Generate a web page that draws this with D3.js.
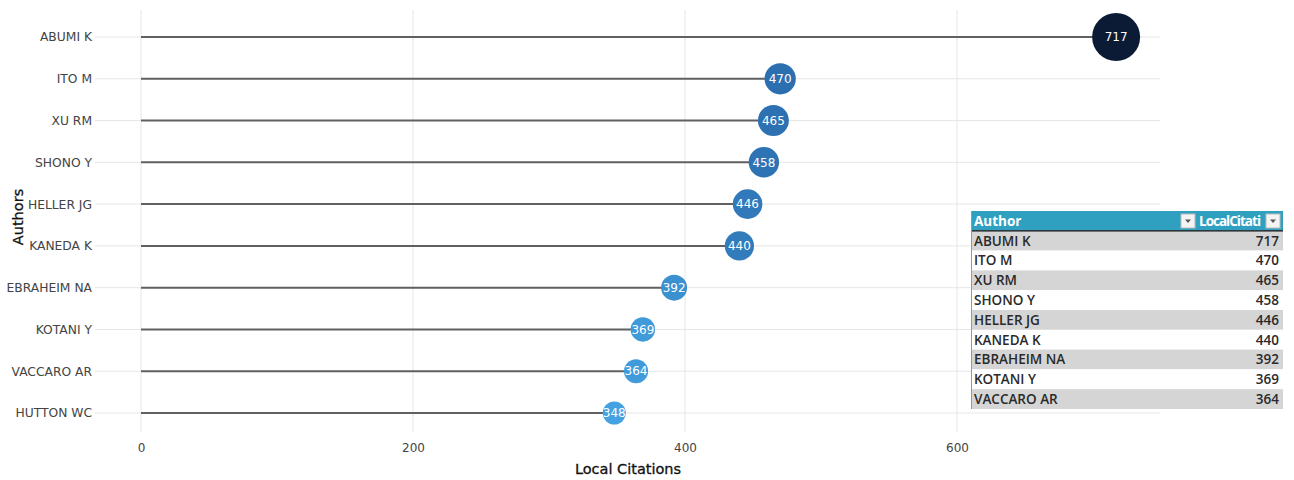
<!DOCTYPE html>
<html><head><meta charset="utf-8">
<script src="https://cdn.jsdelivr.net/npm/d3@7"></script>
<style>body{margin:0;background:#fff}svg{display:block}</style>
</head><body>
<svg id="c" width="1294" height="480"></svg>
<script>
const authors = ["ABUMI K","ITO M","XU RM","SHONO Y","HELLER JG","KANEDA K","EBRAHEIM NA","KOTANI Y","VACCARO AR","HUTTON WC"];
const citations = [717,470,465,458,446,440,392,369,364,348];
const xTicks = [0,200,400,600];
const tableAuthors = authors.slice(0,9);
const tableValues = citations.slice(0,9);
const tableHeaders = ["Author","LocalCitati"];

const svg = d3.select("#c");
const x = d3.scaleLinear().domain([0,750]).range([141,1161]);
const y = d3.scalePoint().domain(authors).range([37,413]);
const r = d3.scaleLinear().domain([348,717]).range([11.5,24]);
const col = d3.scaleLinear().domain([348,470,717]).range(["#44a2e2","#2c6fb0","#0c1b35"]).interpolate(d3.interpolateRgb);
const font = "DejaVu Sans, Verdana, sans-serif";

// grid
svg.append("g").selectAll("line").data(xTicks).join("line")
  .attr("x1",d=>x(d)).attr("x2",d=>x(d)).attr("y1",10).attr("y2",432)
  .attr("stroke","#e6e6e6").attr("stroke-width",1);
svg.append("g").selectAll("line").data(authors).join("line")
  .attr("x1",95).attr("x2",1160).attr("y1",d=>y(d)).attr("y2",d=>y(d))
  .attr("stroke","#e6e6e6").attr("stroke-width",1);

// axes
const yAxis = svg.append("g").attr("transform","translate(95,0)").call(d3.axisLeft(y).tickSize(0).tickPadding(3));
yAxis.select(".domain").remove();
yAxis.selectAll("text").attr("font-family",font).attr("font-size",12.3).attr("fill","#444");
const xAxis = svg.append("g").attr("transform","translate(0,441)").call(d3.axisBottom(x).tickValues(xTicks).tickSize(0).tickPadding(2));
xAxis.select(".domain").remove();
xAxis.selectAll("text").attr("font-family",font).attr("font-size",12).attr("fill","#444");

svg.append("text").attr("x",628).attr("y",474).attr("text-anchor","middle")
  .attr("font-family",font).attr("font-size",14.5).attr("fill","#111").attr("stroke","#111").attr("stroke-width",0.3).text("Local Citations");
svg.append("text").attr("transform","translate(23,217) rotate(-90)").attr("text-anchor","middle")
  .attr("font-family",font).attr("font-size",14.5).attr("fill","#111").attr("stroke","#111").attr("stroke-width",0.3).text("Authors");

// lollipops
const data = authors.map((a,i)=>({a, v:citations[i]}));
svg.append("g").selectAll("line").data(data).join("line")
  .attr("x1",x(0)).attr("x2",d=>x(d.v)).attr("y1",d=>y(d.a)).attr("y2",d=>y(d.a))
  .attr("stroke","#606060").attr("stroke-width",2);
svg.append("g").selectAll("circle").data(data).join("circle")
  .attr("cx",d=>x(d.v)).attr("cy",d=>y(d.a)).attr("r",d=>r(d.v)).attr("fill",d=>col(d.v));
svg.append("g").selectAll("text").data(data).join("text")
  .attr("x",d=>x(d.v)).attr("y",d=>y(d.a)).attr("dy","0.35em").attr("text-anchor","middle")
  .attr("font-family",font).attr("font-size",12).attr("fill","#fff").text(d=>d.v);

// table
const tx0 = 971, tx1 = 1283, th = 19.8, ty0 = 211;
const tg = svg.append("g");
tg.append("rect").attr("x",tx0).attr("y",ty0).attr("width",tx1-tx0).attr("height",th).attr("fill","#2fa0bf");
tg.selectAll("rect.row").data(tableAuthors).join("rect").attr("class","row")
  .attr("x",tx0).attr("y",(d,i)=>ty0+th*(i+1)).attr("width",tx1-tx0).attr("height",th)
  .attr("fill",(d,i)=>i%2===0?"#d5d5d5":"#ffffff");
tg.append("line").attr("x1",tx0).attr("x2",tx1).attr("y1",ty0+th).attr("y2",ty0+th).attr("stroke","#111").attr("stroke-width",1.2);
tg.append("line").attr("x1",tx0+0.5).attr("x2",tx0+0.5).attr("y1",ty0).attr("y2",ty0+th*10).attr("stroke","#999").attr("stroke-width",1);
const tfont = "Open Sans, Liberation Sans, sans-serif";
tg.append("text").attr("x",tx0+3).attr("y",ty0+th/2).attr("dy","0.36em").attr("font-family",tfont)
  .attr("font-weight",700).attr("font-size",13.5).attr("fill","#fff").text(tableHeaders[0]);
tg.append("text").attr("x",1199).attr("y",ty0+th/2).attr("dy","0.36em").attr("font-family",tfont)
  .attr("font-weight",700).attr("font-size",13.5).attr("fill","#fff").attr("textLength",62).text(tableHeaders[1]);
[1181,1266].forEach(bx=>{
  tg.append("rect").attr("x",bx).attr("y",ty0+3).attr("width",14).attr("height",14).attr("fill","#f4f4f4").attr("stroke","#bbb");
  tg.append("path").attr("d",`M${bx+4},${ty0+8.5}L${bx+10},${ty0+8.5}L${bx+7},${ty0+12}Z`).attr("fill","#555");
});
tg.selectAll("text.a").data(tableAuthors).join("text").attr("class","a")
  .attr("x",tx0+3).attr("y",(d,i)=>ty0+th*(i+1)+th/2).attr("dy","0.36em").attr("font-family",tfont)
  .attr("font-size",13.5).attr("font-weight",600).attr("fill","#2a2a2a").text(d=>d);
tg.selectAll("text.v").data(tableValues).join("text").attr("class","v")
  .attr("x",tx1-4).attr("y",(d,i)=>ty0+th*(i+1)+th/2).attr("dy","0.36em").attr("text-anchor","end").attr("font-family",tfont)
  .attr("font-size",13.5).attr("font-weight",600).attr("fill","#2a2a2a").text(d=>d);
</script>
</body></html>
